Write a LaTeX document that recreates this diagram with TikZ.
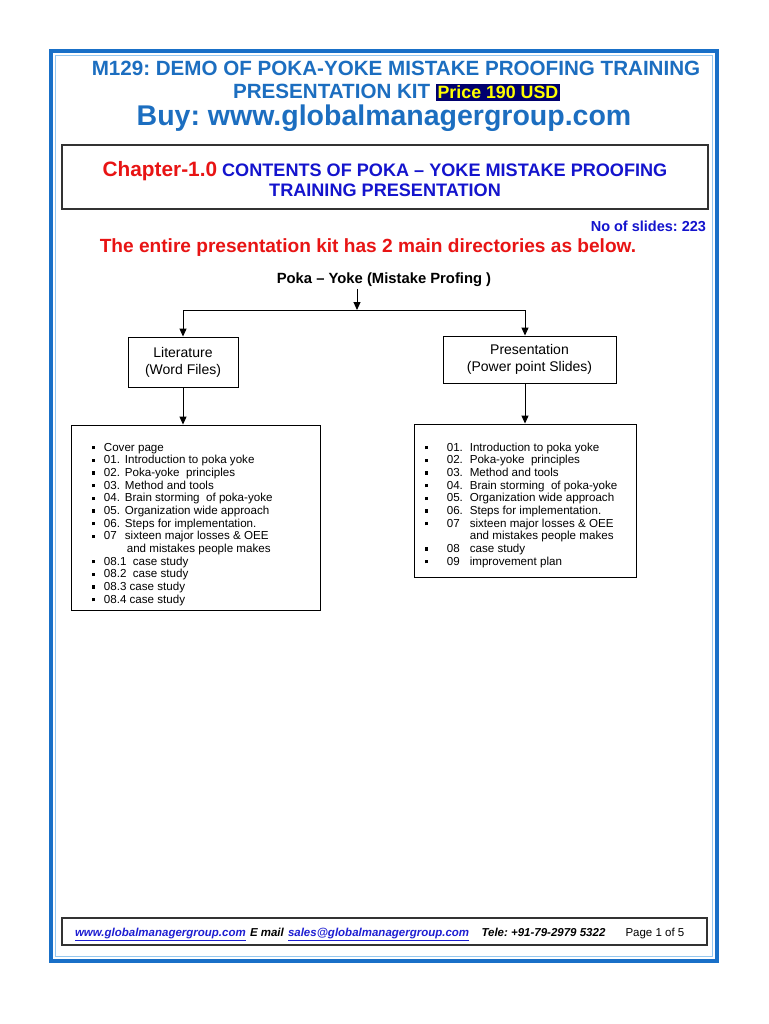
\documentclass[tikz,border=0pt]{standalone}
\usepackage{fontspec}
\setmainfont{Liberation Sans}
\usetikzlibrary{arrows.meta}
\definecolor{tblue}{RGB}{28,110,192}
\definecolor{cblue}{RGB}{20,20,205}
\definecolor{tred}{RGB}{232,20,20}
\definecolor{navy}{RGB}{0,0,110}
\definecolor{hyellow}{RGB}{255,255,0}
\definecolor{bordblue}{RGB}{25,112,200}
\definecolor{lightblue}{RGB}{150,200,240}
\definecolor{linkblue}{RGB}{30,30,210}
\definecolor{boxgray}{RGB}{50,50,50}
\newcommand{\bul}{\raisebox{1.7pt}{\rule{3.3pt}{3.3pt}}}
\newcommand{\nm}[1]{\makebox[21pt][l]{#1}}
\newcommand{\rn}[1]{\makebox[23pt][l]{#1}}
\tikzset{
  plain/.style={inner sep=0pt, outer sep=0pt},
  frame/.style={draw=boxgray, line width=1.1pt, inner sep=0pt},
  thinbox/.style={draw=black, line width=0.9pt, inner sep=0pt},
  arr/.style={line width=1pt, -{Triangle[length=8pt,width=7pt]}},
  conn/.style={line width=1pt},
  listfont/.style={font=\fontsize{11.6}{12.67}\selectfont},
  foot/.style={plain, anchor=base west, font=\fontsize{11.5}{13}\selectfont\bfseries\itshape}
}
\begin{document}
\frenchspacing
\begin{tikzpicture}[x=1pt,y=-1pt]
\useasboundingbox[fill=white] (0,0) rectangle (768,1024);
% page border
\draw[bordblue, line width=3.5pt] (51,51) rectangle (717,961);
\draw[lightblue, line width=1.5pt] (55.5,55.5) rectangle (712.5,956.5);

% header
\node[plain, text=tblue, font=\fontsize{20.6}{23}\selectfont\bfseries] (t1) at (396,68.5)
  {M129: DEMO OF POKA-YOKE MISTAKE PROOFING TRAINING};
\node[plain, text=tblue, font=\fontsize{20.6}{23}\selectfont\bfseries] (t2) at (396.5,92.5)
  {PRESENTATION KIT {\setlength\fboxsep{1.6pt}\colorbox{navy}{\textcolor{hyellow}{\fontsize{17.8}{20}\selectfont Price 190 USD}}}};
\node[plain, text=tblue, font=\fontsize{28.5}{31}\selectfont\bfseries] (t3) at (384,118)
  {Buy: www.globalmanagergroup.com};

% chapter box
\node[frame, minimum width=646pt, minimum height=64pt] (chap) at (385,177) {};
\node[plain, align=center, font=\fontsize{18.1}{20.5}\selectfont\bfseries, text=cblue] (chapt) at (385,179)
  {{\color{tred}\fontsize{20.8}{20.5}\selectfont Chapter-1.0} CONTENTS OF POKA -- YOKE MISTAKE PROOFING\\TRAINING PRESENTATION};

\node[plain, anchor=east, text=cblue, font=\fontsize{14.5}{16}\selectfont\bfseries] (slides) at (706,226)
  {No of slides: 223};
\node[plain, text=tred, font=\fontsize{19.1}{22}\selectfont\bfseries] (entire) at (368,248)
  {The entire presentation kit has 2 main directories as below.};

% tree
\node[plain, font=\fontsize{14.8}{16}\selectfont\bfseries] (poka) at (384,280)
  {Poka -- Yoke (Mistake Profing )};
\node[thinbox, minimum width=110pt, minimum height=50pt, align=center,
  font=\fontsize{14}{17}\selectfont] (lit) at (183,362) {Literature\\(Word Files)};
\node[thinbox, minimum width=173pt, minimum height=47pt, align=center,
  font=\fontsize{14}{17}\selectfont] (pres) at (529.5,359.5) {Presentation\\(Power point Slides)};

\coordinate (jm) at (357,310);
\coordinate (jl) at (183,310);
\coordinate (jr) at (525,310);
\draw[arr] (poka.south -| jm) ++(0,2) -- (jm);
\draw[conn] (jl) -- (jr);
\draw[arr] (jl) -- (lit.north);
\draw[arr] (jr) -- (jr |- pres.north);

% list boxes
\node[thinbox, minimum width=249pt, minimum height=185pt] (litlist) at (195.5,517.5) {};
\node[thinbox, minimum width=222pt, minimum height=153pt] (preslist) at (525,500.5) {};

\draw[arr] (lit.south) -- (lit.south |- litlist.north);
\draw[arr] (jr |- pres.south) -- (jr |- preslist.north);

\node[plain, anchor=north west, listfont] (littext) at (92,442.2) {%
\begin{tabular}{@{}l@{\hspace{8.6pt}}l@{}}
\bul & Cover page\\
\bul & \nm{01.}Introduction to poka yoke\\
\bul & \nm{02.}Poka-yoke\ \ principles\\
\bul & \nm{03.}Method and tools\\
\bul & \nm{04.}Brain storming\ \ of poka-yoke\\
\bul & \nm{05.}Organization wide approach\\
\bul & \nm{06.}Steps for implementation.\\
\bul & \nm{07}sixteen major losses \& OEE\\
     & \nm{}\,and mistakes people makes\\
\bul & 08.1\ \ case study\\
\bul & 08.2\ \ case study\\
\bul & 08.3 case study\\
\bul & 08.4 case study
\end{tabular}};

\node[plain, anchor=north west, listfont] (prestext) at (424.5,442.2) {%
\begin{tabular}{@{}l@{\hspace{19pt}}l@{}}
\bul & \rn{01.}Introduction to poka yoke\\
\bul & \rn{02.}Poka-yoke\ \ principles\\
\bul & \rn{03.}Method and tools\\
\bul & \rn{04.}Brain storming\ \ of poka-yoke\\
\bul & \rn{05.}Organization wide approach\\
\bul & \rn{06.}Steps for implementation.\\
\bul & \rn{07}sixteen major losses \& OEE\\
     & \rn{}and mistakes people makes\\
\bul & \rn{08}case study\\
\bul & \rn{09}improvement plan
\end{tabular}};

% footer
\node[frame, minimum width=645pt, minimum height=27pt] (footbox) at (384.5,931.5) {};
\node[foot, text=linkblue] (f1) at (75,936.5) {\underline{www.globalmanagergroup.com}};
\node[foot] (f2) at (250,936.5) {E mail};
\node[foot, text=linkblue] (f3) at (288,936.5) {\underline{sales@globalmanagergroup.com}};
\node[foot] (f4) at (481.5,936.5) {Tele: +91-79-2979 5322};
\node[plain, anchor=base west, font=\fontsize{11.5}{13}\selectfont] (f5) at (625.5,936.5) {Page 1 of 5};
\end{tikzpicture}
\end{document}
